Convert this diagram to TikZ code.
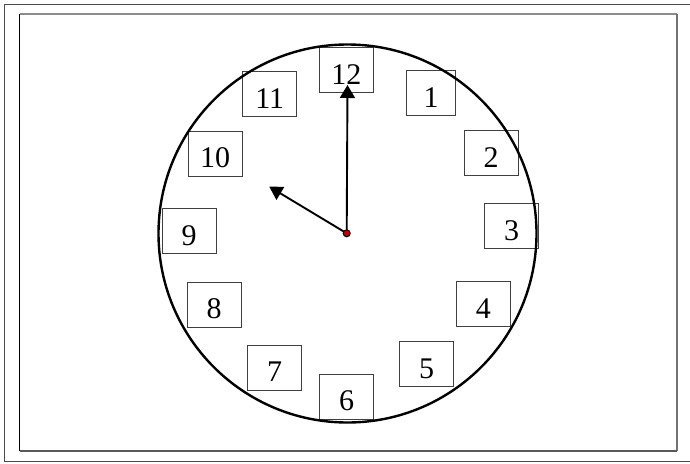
\documentclass[tikz,border=0pt]{standalone}
\usepackage{fontspec}
\setmainfont{Liberation Serif}
\usetikzlibrary{arrows.meta}
\begin{document}
\begin{tikzpicture}[x=1pt,y=-1pt,
  numbox/.style={draw=black!75,line width=0.9pt,inner sep=0pt,minimum width=54pt,
    text height=36.5pt,text depth=8.5pt,font=\fontsize{30}{30}\selectfont},
  hand/.style={line width=1.9pt,-{Triangle[length=13pt,width=15pt]}}]
\useasboundingbox (0,0) rectangle (690,463);
\fill[white] (0,0) rectangle (690,463);
\begin{scope}
\clip (0,0) rectangle (690,463);
\draw[black!70,line width=1pt] (4.5,4.5) rectangle (692,461.5);
\end{scope}
% inner frame
\draw[black!45,line width=1.5pt] (19.5,14) -- (676.5,14);
\draw[black!55,line width=2pt] (676.5,14) -- (676.5,451);
\draw[black!65,line width=1.5pt] (19.5,451) -- (676.5,451);
\draw[black,line width=1pt] (19.5,14) -- (19.5,451);
% number boxes
\node[numbox] (n12) at (346.3,70) {12};
\node[numbox,minimum width=49pt] (n1) at (431,93) {1};
\node[numbox] (n2) at (491,153.3) {2};
\node[numbox] (n3) at (511.5,226.2) {3};
\node[numbox] (n4) at (483.3,304.3) {4};
\node[numbox] (n5) at (426.5,364.3) {5};
\node[numbox] (n6) at (346.7,396.7) {6};
\node[numbox] (n7) at (274.7,367.8) {7};
\node[numbox] (n8) at (214.2,304.5) {8};
\node[numbox] (n9) at (189,231.2) {9};
\node[numbox] (n10) at (215.2,153.8) {10};
\node[numbox] (n11) at (269.7,94.2) {11};
% clock face
\node[circle,draw=black,line width=2.4pt,minimum size=378pt,inner sep=0pt] (face) at (347.5,233.5) {};
% hands
\coordinate (c) at (346.7,233.3);
\coordinate (mtip) at (347.5,85);
\coordinate (htip) at (269.3,186.7);
\draw[hand] (c) -- (mtip);
\draw[hand] (c) -- (htip);
\node[circle,fill=red!75!black,draw=black,line width=1pt,minimum size=7pt,inner sep=0pt] (ctr) at (c) {};
\end{tikzpicture}
\end{document}
